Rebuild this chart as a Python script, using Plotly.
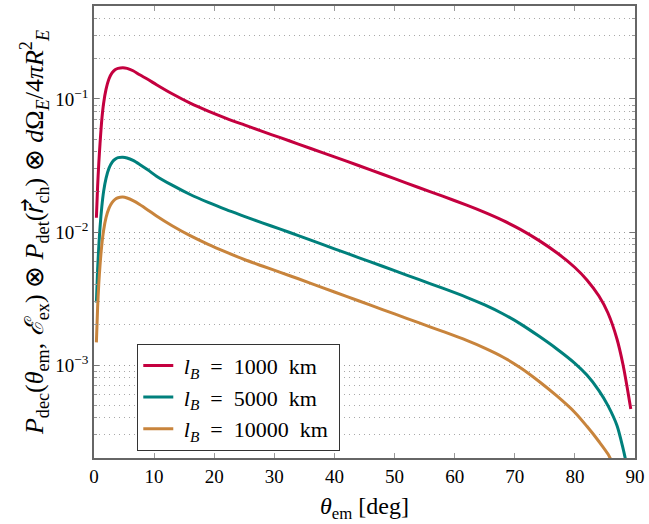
import plotly.graph_objects as go

# --- data ---
theta_1000 = [0.4, 0.6, 0.8, 1.0, 1.3, 1.6, 2.0, 2.5, 3.0, 3.5, 4.0, 4.8, 5.5, 6.5, 7.6, 9.0,
              10.4, 13, 16, 19, 22, 25, 28, 31, 34, 38, 42, 46, 50, 54, 58, 62, 65, 68, 71,
              74, 77, 80, 82, 84, 85.5, 87, 88, 88.7, 89.3]
p_1000 = [0.0128, 0.022, 0.033, 0.046, 0.070, 0.093, 0.118, 0.142, 0.157, 0.166, 0.170, 0.172,
          0.170, 0.163, 0.152, 0.140, 0.128, 0.1094, 0.0931, 0.0811, 0.0716, 0.0638, 0.0570,
          0.0512, 0.0458, 0.0395, 0.0341, 0.0293, 0.0252, 0.0216, 0.0186, 0.0159, 0.01403,
          0.01222, 0.01042, 0.00865, 0.00698, 0.00541, 0.00436, 0.00330, 0.00246, 0.00157,
          0.00101, 0.000678, 0.000467]

theta_5000 = [0.4, 0.6, 0.8, 1.0, 1.3, 1.6, 2.0, 2.5, 3.0, 3.5, 4.0, 4.8, 5.5, 6.5, 7.6, 9.0,
              10.4, 13, 16, 19, 22, 25, 28, 31, 34, 38, 42, 46, 50, 54, 58, 62, 65, 68, 71,
              74, 77, 80, 82, 84, 85.5, 87, 88, 88.5]
p_5000 = [0.00295, 0.0052, 0.0078, 0.0108, 0.0155, 0.0202, 0.0253, 0.0302, 0.0334, 0.0352,
          0.0362, 0.0365, 0.0360, 0.0345, 0.0322, 0.0292, 0.0263, 0.02249, 0.01914, 0.01667,
          0.01472, 0.01312, 0.01172, 0.0105, 0.0094, 0.00807, 0.00693, 0.00596, 0.00512,
          0.0044, 0.00378, 0.00323, 0.00283, 0.00243, 0.00203, 0.00165, 0.00132, 0.00103,
          0.00084, 0.000643, 0.000495, 0.000351, 0.000237, 0.000188]

theta_10000 = [0.4, 0.6, 0.8, 1.0, 1.3, 1.6, 2.0, 2.5, 3.0, 3.5, 4.0, 4.8, 5.5, 6.5, 7.6, 9.0,
               10.4, 13, 16, 19, 22, 25, 28, 31, 34, 38, 42, 46, 50, 54, 58, 62, 65, 68, 71,
               74, 77, 80, 82, 84, 85.5, 86.6]
p_10000 = [0.00148, 0.0027, 0.0041, 0.0056, 0.0080, 0.0103, 0.0128, 0.0151, 0.0166, 0.0176,
           0.0181, 0.0183, 0.0180, 0.0172, 0.0161, 0.0146, 0.01318, 0.01114, 0.00938,
           0.00807, 0.00705, 0.00621, 0.00555, 0.00497, 0.00445, 0.00382, 0.00328, 0.00282,
           0.00242, 0.00208, 0.00179, 0.00153, 0.00134, 0.00115, 0.00095, 0.000755,
           0.000585, 0.00044, 0.000346, 0.000266, 0.000214, 0.00017]

NB = "\u00a0"
series_names = [f"{NB}<i>l</i><sub><i>B</i></sub>{NB*2}={NB*2}1000{NB*2}km{NB}",
                f"{NB}<i>l</i><sub><i>B</i></sub>{NB*2}={NB*2}5000{NB*2}km{NB}",
                f"{NB}<i>l</i><sub><i>B</i></sub>{NB*2}={NB*2}10000{NB*2}km{NB}"]
series_colors = ["#c4003f", "#00807c", "#c8843c"]

x_ticks = [0, 10, 20, 30, 40, 50, 60, 70, 80, 90]
y_major = [1e-3, 1e-2, 1e-1]
y_major_text = ["10<sup>−3</sup>", "10<sup>−2</sup>", "10<sup>−1</sup>"]
y_minor = [m * 10.0 ** e for e in (-4, -3, -2, -1) for m in range(2, 10)
           if 2e-4 <= m * 10.0 ** e <= 0.5]

FONT = "Liberation Serif"

fig = go.Figure()
for xs, ys, name, col in zip([theta_1000, theta_5000, theta_10000],
                             [p_1000, p_5000, p_10000], series_names, series_colors):
    fig.add_trace(go.Scatter(x=xs, y=ys, mode="lines", name=name,
                             line=dict(color=col, width=3, shape="spline", smoothing=0.8)))

fig.update_layout(
    width=649, height=524,
    margin=dict(l=94, r=14, t=4, b=66),
    paper_bgcolor="white", plot_bgcolor="white",
    font=dict(family=FONT, size=19, color="black"),
    showlegend=True,
    legend=dict(x=0.08, y=0.253, xanchor="left", yanchor="top",
                bgcolor="white", bordercolor="#333", borderwidth=1,
                font=dict(family=FONT, size=22), itemwidth=30,
                tracegroupgap=0),
)

fig.update_xaxes(
    range=[0, 90], tickvals=x_ticks, ticks="inside", ticklen=5, tickcolor="#999",
    showline=True, linecolor="#666", linewidth=1.5, mirror="ticks",
    showgrid=False, zeroline=False,
    tickfont=dict(family=FONT, size=19),
    title=dict(text="<i>θ</i><sub>em</sub> [deg]", font=dict(family=FONT, size=24), standoff=12),
)

fig.update_yaxes(
    type="log", range=[-3.699, -0.301],
    tickvals=y_major, ticktext=y_major_text,
    ticks="inside", ticklen=5, tickcolor="#777",
    showline=True, linecolor="#666", linewidth=1.5, mirror="ticks",
    showgrid=True, gridcolor="#9a9a9a", griddash="1px,4px", gridwidth=1,
    zeroline=False,
    tickfont=dict(family=FONT, size=19),
    minor=dict(tickvals=y_minor, ticks="inside", ticklen=3, tickcolor="#999",
               showgrid=True, gridcolor="#a8a8a8", griddash="1px,4px", gridwidth=1),
    title=dict(text=f"{NB*2}<i>P</i><sub>dec</sub>(<i>θ</i><sub>em</sub>, <i>ℰ</i><sub>ex</sub>) ⊗ "
                    "<i>P</i><sub>det</sub>(𝑟⃗<sub>ch</sub>) ⊗ "
                    "<i>d</i>Ω<sub><i>E</i></sub>/4<i>πR</i><sup>2</sup><sub><i>E</i></sub>",
               font=dict(family=FONT, size=26), standoff=4),
)

fig.write_html("out.html")
